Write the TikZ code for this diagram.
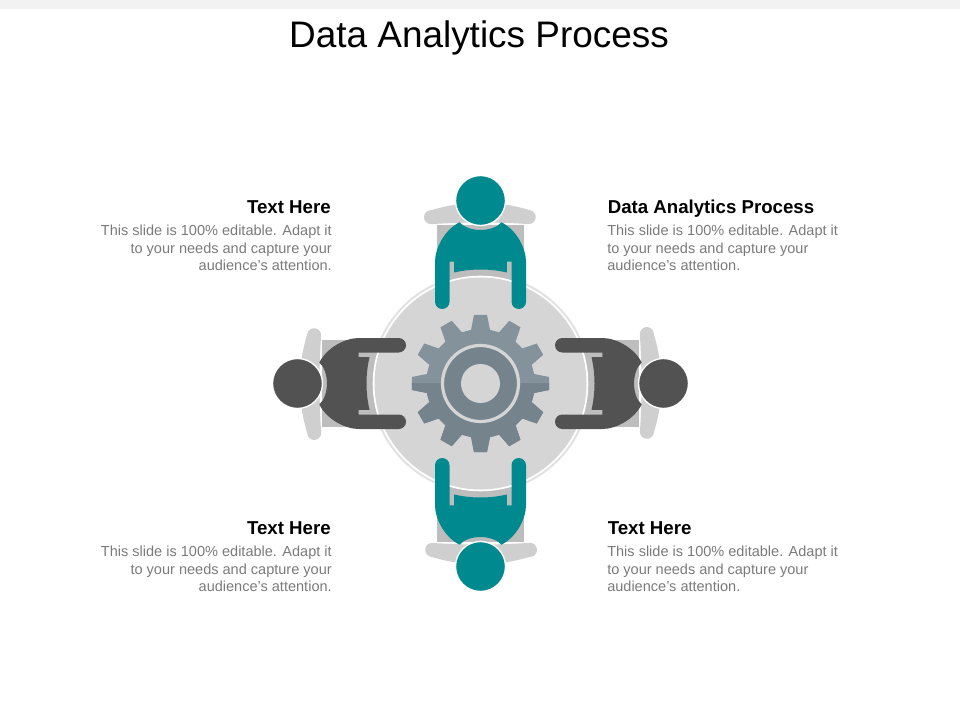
\documentclass[tikz,border=0pt]{standalone}
\usepackage{fontspec}
\setmainfont{Liberation Sans}
\definecolor{tealfig}{HTML}{008A90}
\definecolor{darkfig}{HTML}{525252}
\definecolor{chairc}{HTML}{CFCFCF}
\definecolor{seatc}{HTML}{BDBDBD}
\definecolor{tablec}{HTML}{D5D5D5}
\definecolor{tablerim}{HTML}{E2E2E2}
\definecolor{gearlight}{HTML}{84929B}
\definecolor{geardark}{HTML}{75838D}
\definecolor{bodytext}{HTML}{7A7A7A}
\definecolor{topstrip}{HTML}{F2F2F2}
\tikzset{
  titletext/.style={inner sep=0pt,anchor=center,font=\fontsize{27.7}{32}\selectfont,text=black},
  headr/.style={inner sep=0pt,anchor=base east,font=\fontsize{14}{16}\bfseries\selectfont,text=black},
  headl/.style={inner sep=0pt,anchor=base west,font=\fontsize{14}{16}\bfseries\selectfont,text=black},
  bodyr/.style={inner sep=0pt,anchor=north east,align=right,font=\fontsize{10.9}{13}\selectfont,text=bodytext},
  bodyl/.style={inner sep=0pt,anchor=north west,align=left,font=\fontsize{10.9}{13}\selectfont,text=bodytext},
  pics/seat/.style={code={
    \fill[seatc] (-43.3,-158.5) rectangle (43.3,-90);
  }},
  pics/person/.style={code={
    \fill[chairc] (-49.5,-173.3)
      .. controls (-32,-178.5) and (-15,-181) .. (0,-181)
      .. controls (15,-181) and (32,-178.5) .. (49.5,-173.3)
      arc[start angle=-80,end angle=90,radius=7]
      .. controls (32,-160.5) and (15,-161) .. (0,-161)
      .. controls (-15,-161) and (-32,-160.5) .. (-49.5,-159.3)
      arc[start angle=90,end angle=260,radius=7] -- cycle;
    \fill[#1] (-21,-161.2)
      .. controls (-12,-151) and (12,-151) .. (21,-161.2)
      .. controls (36,-153.5) and (45.5,-135.5) .. (45.5,-121.5)
      -- (45.5,-81.75) arc[start angle=0,end angle=180,radius=7.25]
      -- (31,-121.8) -- (26.3,-121.8) -- (26.3,-111)
      .. controls (9,-115) and (-9,-115) .. (-26.3,-111)
      -- (-26.3,-121.8) -- (-31,-121.8)
      -- (-31,-81.75) arc[start angle=0,end angle=180,radius=7.25]
      -- (-45.5,-121.5)
      .. controls (-45.5,-135.5) and (-36,-153.5) .. (-21,-161.2) -- cycle;
    \draw[white,line width=1pt,fill=#1] (0,-183) circle[radius=25];
  }}
}
\newcommand{\gearoutline}{(-10:54.5) foreach \a in {0,30,...,330} {
  -- (\a-10:54.5) -- (\a-5.4:69) -- (\a+5.4:69) -- (\a+10:54.5)} -- cycle}
\begin{document}
\begin{tikzpicture}[x=0.75pt,y=-0.75pt]
\useasboundingbox (0,0) rectangle (960,720);
\fill[topstrip] (0,0) rectangle (960,9);

\node[titletext] (title) at (479,37.5) {Data Analytics Process};

% table rim, seats, table top
\coordinate (c) at (480.5,383.5);
\fill[tablerim] (c) circle[radius=110];
\begin{scope}[shift={(c)}]
  \pic[rotate=0] {seat};
  \pic[rotate=90] {seat};
  \pic[rotate=180] {seat};
  \pic[rotate=-90] {seat};
\end{scope}
\fill[white] (c) circle[radius=107.8];
\fill[tablec] (c) circle[radius=106];

% gear
\begin{scope}[shift={(c)}]
  \fill[gearlight] \gearoutline;
  \begin{scope}
    \clip (-75,0) rectangle (75,75);
    \fill[geardark] \gearoutline;
  \end{scope}
  \draw[tablec,line width=2.4pt,fill=geardark] (0,0) circle[radius=38];
  \fill[tablec] (0,0) circle[radius=19.5];
\end{scope}

% people
\begin{scope}[shift={(c)}]
  \pic[rotate=0] {person=tealfig};
  \pic[rotate=180] {person=tealfig};
  \pic[rotate=90] {person=darkfig};
  \pic[rotate=-90] {person=darkfig};
\end{scope}

% texts
\node[headr] (h1) at (331,213.5) {Text Here};
\node[bodyr] (b1) at (332,225) {This slide is 100\% editable. Adapt it\\to your needs and capture your\\audience's attention.};
\node[headl] (h2) at (607.5,213.5) {Data Analytics Process};
\node[bodyl] (b2) at (607,225) {This slide is 100\% editable. Adapt it\\to your needs and capture your\\audience's attention.};
\node[headr] (h3) at (331,534.5) {Text Here};
\node[bodyr] (b3) at (332,546) {This slide is 100\% editable. Adapt it\\to your needs and capture your\\audience's attention.};
\node[headl] (h4) at (607.5,534.5) {Text Here};
\node[bodyl] (b4) at (607,546) {This slide is 100\% editable. Adapt it\\to your needs and capture your\\audience's attention.};
\end{tikzpicture}
\end{document}
